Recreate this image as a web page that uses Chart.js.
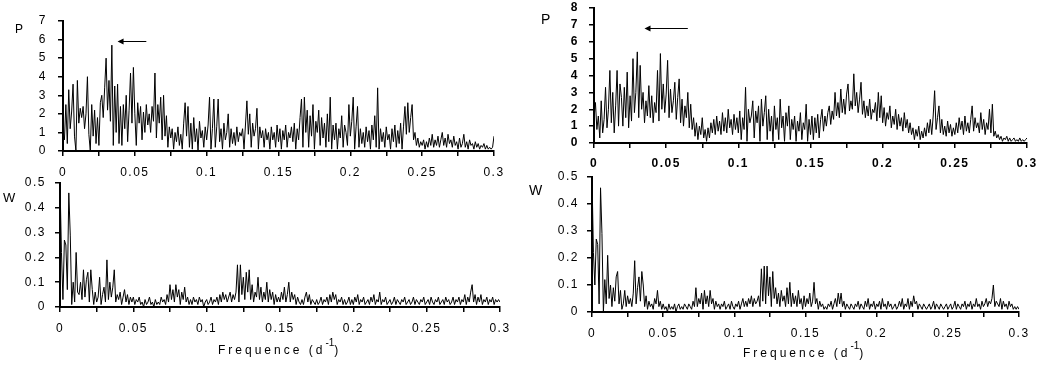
<!DOCTYPE html>
<html>
<head>
<meta charset="utf-8">
<script src="https://cdn.jsdelivr.net/npm/chart.js@4"></script>
<style>
  body { margin: 0; background: #fff; width: 1042px; height: 366px; position: relative; overflow: hidden; font-family: 'Liberation Sans', Arial, sans-serif; }
  canvas { position: absolute; }
  .lbl { position: absolute; color: #000; line-height: 1; }
  .freq { position: absolute; font-size: 12px; letter-spacing: 3px; color: #000; line-height: 12px; white-space: nowrap; }
  .freq sup { font-size: 10px; letter-spacing: 0; vertical-align: 0; position: relative; top: -8px; }
</style>
</head>
<body>
<canvas id="pLeftChart" width="495" height="168" style="left:13px;top:13px"></canvas>
<canvas id="pRightChart" width="497" height="173" style="left:544px;top:0px"></canvas>
<canvas id="wLeftChart" width="504" height="162" style="left:10px;top:175px"></canvas>
<canvas id="wRightChart" width="491" height="173" style="left:542px;top:169px"></canvas>

<div class="lbl" style="left:15px;top:23px;font-size:12px">P</div>
<div class="lbl" style="left:541px;top:12px;font-size:14px">P</div>
<div class="lbl" style="left:3px;top:191px;font-size:13px">W</div>
<div class="lbl" style="left:529px;top:183px;font-size:14px">W</div>
<div class="freq" style="left:218px;top:344px">Frequence (d<sup>-1</sup>)</div>
<div class="freq" style="left:743px;top:347px">Frequence (d<sup>-1</sup>)</div>

<script>
// frequency grid (d^-1), same for all panels
const fStep = 0.001;

// periodogram, first data set (one row = 0.01 d^-1)
const pLeft = [
    1.0, 0.6, 2.5, 0.4, 3.3, 1.2, 2.1, 3.6, 0.8, 0.0,
    3.8, 1.5, 2.3, 1.8, 2.4, 1.2, 2.0, 4.0, 0.9, 0.0,
    2.5, 0.8, 2.2, 0.4, 1.8, 0.3, 2.6, 3.0, 1.8, 3.4,
    5.0, 2.2, 3.8, 1.6, 5.7, 0.3, 3.5, 1.0, 3.6, 0.4,
    2.4, 0.3, 2.5, 1.2, 3.0, 0.5, 2.2, 4.2, 1.5, 4.5,
    2.0, 0.3, 2.6, 1.5, 2.4, 0.6, 2.1, 1.0, 2.5, 1.4,
    2.0, 1.0, 2.4, 1.6, 4.2, 0.7, 2.5, 1.5, 2.9, 0.6,
    3.0, 0.8, 1.9, 0.2, 1.3, 0.7, 1.2, 0.1, 1.0, 0.5,
    1.3, 0.3, 0.9, 0.1, 1.5, 2.6, 0.8, 2.4, 0.2, 1.5,
    0.1, 1.8, 0.5, 1.2, 0.0, 1.6, 0.7, 1.1, 0.2, 1.3,
    0.6, 1.4, 2.9, 0.1, 1.2, 2.8, 0.2, 1.3, 2.8, 0.5,
    1.2, 0.1, 1.5, 0.6, 1.0, 2.0, 0.2, 1.2, 0.4, 1.0,
    0.3, 1.3, 0.5, 1.0, 0.8, 1.2, 0.1, 1.4, 2.7, 0.9,
    2.0, 0.2, 1.5, 0.8, 1.2, 2.3, 0.1, 1.3, 0.7, 1.1,
    0.2, 1.2, 0.6, 1.0, 0.1, 1.3, 0.6, 1.0, 0.2, 1.4,
    0.5, 1.2, 0.1, 1.1, 0.6, 1.4, 0.2, 1.0, 0.7, 1.3,
    0.5, 1.5, 0.1, 1.2, 0.6, 1.8, 2.8, 0.2, 2.9, 1.0,
    2.2, 0.2, 1.9, 0.8, 2.5, 0.1, 1.6, 1.0, 2.2, 0.3,
    1.8, 0.7, 1.5, 0.2, 2.0, 0.5, 2.9, 0.1, 1.4, 0.6,
    1.5, 0.1, 1.2, 0.7, 1.9, 0.2, 1.4, 1.0, 0.3, 2.5,
    0.8, 1.6, 2.9, 0.1, 1.3, 2.4, 0.2, 1.2, 0.4, 1.0,
    0.2, 1.3, 0.5, 1.1, 0.1, 1.4, 0.6, 1.9, 0.2, 3.4,
    0.1, 1.2, 0.5, 1.0, 0.2, 1.3, 0.6, 0.9, 0.1, 1.2,
    0.5, 1.4, 0.2, 1.1, 0.4, 1.5, 0.1, 1.3, 2.4, 0.9,
    2.6, 1.0, 1.8, 2.5, 0.6, 1.0, 0.3, 0.7, 0.2, 0.5,
    0.3, 0.6, 0.1, 0.5, 0.2, 0.7, 0.3, 0.9, 0.2, 0.6,
    0.3, 0.8, 0.2, 0.6, 1.0, 0.3, 0.7, 0.2, 0.9, 0.4,
    0.6, 0.2, 0.8, 0.3, 0.5, 0.1, 0.7, 0.2, 0.4, 0.9,
    0.2, 0.5, 0.1, 0.6, 0.3, 0.4, 0.1, 0.5, 0.2, 0.4,
    0.1, 0.3, 0.2, 0.4, 0.1, 0.3, 0.1, 0.2, 0.1, 0.2,
    0.8
];

// periodogram, second data set
const pRight = [
    1.5, 2.4, 0.8, 1.6, 0.3, 2.5, 0.6, 1.4, 3.3, 0.9,
    2.0, 4.3, 1.2, 3.0, 0.6, 2.2, 4.3, 1.0, 3.5, 2.7,
    1.0, 3.3, 1.5, 4.2, 0.9, 2.8, 1.3, 5.0, 1.8, 3.0,
    5.4, 1.5, 4.6, 2.0, 3.0, 1.2, 2.5, 1.6, 3.4, 1.5,
    2.8, 1.2, 2.4, 1.8, 4.3, 1.3, 5.3, 2.0, 3.5, 1.8,
    2.9, 4.9, 1.5, 3.2, 1.8, 2.5, 3.6, 1.4, 2.7, 3.8,
    1.2, 2.6, 1.0, 2.2, 1.5, 3.0, 0.9, 2.3, 0.8, 1.5,
    0.4, 1.2, 0.2, 1.0, 0.5, 1.5, 0.3, 0.8, 0.1, 0.9,
    0.3, 1.2, 0.6, 1.4, 0.5, 1.6, 0.7, 1.3, 0.5, 1.8,
    0.7, 1.5, 0.6, 2.0, 0.9, 1.4, 0.5, 1.7, 0.8, 1.5,
    0.6, 1.9, 0.2, 1.5, 0.8, 3.3, 0.1, 2.0, 1.2, 1.6,
    2.5, 0.3, 1.9, 1.2, 2.2, 0.1, 2.6, 1.0, 1.8, 2.8,
    0.2, 2.0, 0.7, 1.6, 0.1, 2.2, 0.8, 1.5, 0.2, 2.6,
    0.9, 1.6, 0.1, 1.8, 1.0, 2.2, 0.2, 1.4, 0.8, 1.6,
    0.1, 1.3, 0.7, 1.8, 0.2, 1.2, 0.8, 2.3, 0.1, 1.4,
    0.5, 1.6, 0.2, 1.5, 0.6, 1.7, 0.3, 1.4, 2.0, 0.7,
    1.6, 1.0, 1.8, 2.2, 1.1, 1.9, 1.4, 3.0, 1.6, 2.4,
    1.5, 3.2, 1.8, 2.6, 1.7, 2.9, 3.5, 1.9, 2.5, 2.0,
    4.1, 2.2, 3.0, 1.8, 2.6, 3.6, 1.7, 2.5, 1.5, 2.2,
    1.6, 2.6, 1.4, 2.0, 1.8, 2.4, 1.3, 3.0, 1.5, 2.8,
    1.2, 2.1, 1.0, 1.8, 1.4, 2.2, 0.9, 1.6, 1.1, 2.0,
    0.8, 1.7, 1.0, 1.5, 0.7, 1.8, 0.9, 1.4, 0.6, 1.2,
    0.5, 0.9, 0.2, 0.8, 0.4, 1.0, 0.2, 0.7, 0.3, 0.9,
    0.4, 1.2, 0.6, 1.4, 0.5, 1.6, 3.1, 0.8, 1.5, 2.2,
    0.6, 1.4, 0.5, 1.0, 0.4, 1.3, 0.6, 1.1, 0.4, 0.9,
    0.5, 1.2, 0.6, 1.5, 0.8, 1.3, 0.5, 1.6, 0.7, 1.2,
    0.6, 1.4, 2.2, 0.7, 1.5, 0.9, 1.2, 0.6, 1.8, 0.8,
    1.4, 0.5, 1.2, 0.8, 2.0, 0.6, 2.3, 0.4, 0.7, 0.3,
    0.5, 0.2, 0.4, 0.1, 0.3, 0.2, 0.4, 0.1, 0.3, 0.1,
    0.2, 0.3, 0.1, 0.2, 0.1, 0.3, 0.1, 0.2, 0.1, 0.2,
    0.3
];

// spectral window, first data set
const wLeft = [
    0.50, 0.22, 0.03, 0.27, 0.25, 0.07, 0.46, 0.29, 0.01, 0.10,
    0.02, 0.22, 0.06, 0.05, 0.10, 0.03, 0.15, 0.04, 0.11, 0.14,
    0.02, 0.15, 0.07, 0.01, 0.06, 0.02, 0.04, 0.12, 0.01, 0.05,
    0.08, 0.02, 0.19, 0.03, 0.10, 0.04, 0.08, 0.15, 0.02, 0.05,
    0.03, 0.06, 0.01, 0.04, 0.07, 0.02, 0.05, 0.01, 0.04, 0.02,
    0.04, 0.01, 0.03, 0.02, 0.04, 0.01, 0.02, 0.00, 0.03, 0.01,
    0.02, 0.04, 0.01, 0.02, 0.00, 0.03, 0.01, 0.02, 0.01, 0.04,
    0.02, 0.03, 0.01, 0.05, 0.02, 0.09, 0.03, 0.07, 0.02, 0.09,
    0.04, 0.07, 0.01, 0.06, 0.03, 0.08, 0.02, 0.04, 0.01, 0.03,
    0.01, 0.04, 0.02, 0.03, 0.01, 0.04, 0.02, 0.03, 0.00, 0.02,
    0.03, 0.01, 0.02, 0.04, 0.01, 0.03, 0.02, 0.04, 0.01, 0.05,
    0.02, 0.06, 0.03, 0.05, 0.02, 0.04, 0.06, 0.02, 0.05, 0.03,
    0.06, 0.17, 0.02, 0.17, 0.05, 0.12, 0.03, 0.14, 0.06, 0.15,
    0.03, 0.09, 0.02, 0.06, 0.04, 0.12, 0.03, 0.08, 0.02, 0.06,
    0.03, 0.10, 0.02, 0.07, 0.03, 0.06, 0.01, 0.05, 0.02, 0.04,
    0.02, 0.06, 0.03, 0.08, 0.02, 0.05, 0.10, 0.02, 0.06, 0.03,
    0.05, 0.01, 0.04, 0.02, 0.01, 0.03, 0.01, 0.04, 0.06, 0.02,
    0.05, 0.01, 0.03, 0.02, 0.01, 0.03, 0.01, 0.02, 0.04, 0.01,
    0.03, 0.02, 0.04, 0.01, 0.05, 0.02, 0.06, 0.03, 0.05, 0.01,
    0.03, 0.02, 0.04, 0.01, 0.03, 0.01, 0.02, 0.04, 0.01, 0.03,
    0.01, 0.04, 0.02, 0.05, 0.01, 0.03, 0.02, 0.04, 0.01, 0.02,
    0.03, 0.01, 0.04, 0.02, 0.05, 0.01, 0.03, 0.02, 0.06, 0.01,
    0.03, 0.02, 0.04, 0.01, 0.02, 0.03, 0.01, 0.02, 0.04, 0.01,
    0.03, 0.02, 0.01, 0.03, 0.02, 0.04, 0.01, 0.02, 0.03, 0.01,
    0.02, 0.04, 0.01, 0.03, 0.02, 0.01, 0.03, 0.02, 0.04, 0.01,
    0.02, 0.03, 0.01, 0.04, 0.02, 0.01, 0.03, 0.02, 0.04, 0.01,
    0.02, 0.03, 0.01, 0.04, 0.02, 0.03, 0.01, 0.02, 0.04, 0.01,
    0.03, 0.02, 0.04, 0.01, 0.03, 0.02, 0.05, 0.01, 0.04, 0.02,
    0.06, 0.09, 0.02, 0.05, 0.01, 0.04, 0.02, 0.05, 0.01, 0.03,
    0.02, 0.04, 0.01, 0.03, 0.02, 0.04, 0.01, 0.03, 0.02, 0.03,
    0.02
];

// spectral window, second data set
const wRight = [
    0.50, 0.22, 0.10, 0.27, 0.25, 0.03, 0.46, 0.29, 0.00, 0.12,
    0.03, 0.21, 0.05, 0.10, 0.02, 0.09, 0.04, 0.13, 0.15, 0.03,
    0.08, 0.01, 0.03, 0.08, 0.02, 0.06, 0.03, 0.05, 0.02, 0.07,
    0.19, 0.03, 0.09, 0.13, 0.04, 0.15, 0.10, 0.02, 0.06, 0.01,
    0.04, 0.02, 0.03, 0.01, 0.05, 0.03, 0.08, 0.02, 0.04, 0.01,
    0.03, 0.01, 0.02, 0.00, 0.03, 0.01, 0.02, 0.01, 0.03, 0.00,
    0.02, 0.03, 0.01, 0.02, 0.01, 0.03, 0.02, 0.01, 0.03, 0.02,
    0.01, 0.04, 0.02, 0.09, 0.02, 0.05, 0.03, 0.07, 0.01, 0.08,
    0.03, 0.06, 0.02, 0.08, 0.03, 0.05, 0.01, 0.04, 0.02, 0.03,
    0.01, 0.03, 0.02, 0.04, 0.01, 0.02, 0.03, 0.01, 0.04, 0.02,
    0.01, 0.03, 0.02, 0.04, 0.01, 0.03, 0.05, 0.02, 0.04, 0.02,
    0.05, 0.03, 0.06, 0.02, 0.05, 0.03, 0.04, 0.06, 0.02, 0.16,
    0.04, 0.17, 0.03, 0.17, 0.06, 0.13, 0.02, 0.15, 0.05, 0.09,
    0.03, 0.07, 0.02, 0.08, 0.04, 0.06, 0.02, 0.09, 0.03, 0.11,
    0.02, 0.07, 0.03, 0.06, 0.02, 0.08, 0.03, 0.05, 0.01, 0.06,
    0.02, 0.05, 0.03, 0.07, 0.02, 0.04, 0.11, 0.03, 0.05, 0.01,
    0.04, 0.02, 0.03, 0.01, 0.02, 0.01, 0.03, 0.02, 0.04, 0.01,
    0.03, 0.05, 0.02, 0.07, 0.03, 0.07, 0.02, 0.04, 0.01, 0.03,
    0.02, 0.01, 0.03, 0.02, 0.01, 0.03, 0.02, 0.04, 0.01, 0.03,
    0.02, 0.01, 0.04, 0.02, 0.05, 0.01, 0.03, 0.02, 0.04, 0.01,
    0.03, 0.02, 0.04, 0.01, 0.05, 0.02, 0.03, 0.01, 0.04, 0.02,
    0.03, 0.01, 0.02, 0.03, 0.01, 0.02, 0.04, 0.02, 0.05, 0.01,
    0.03, 0.02, 0.05, 0.01, 0.04, 0.02, 0.06, 0.03, 0.04, 0.01,
    0.03, 0.02, 0.01, 0.03, 0.02, 0.01, 0.02, 0.03, 0.01, 0.02,
    0.04, 0.01, 0.03, 0.02, 0.01, 0.03, 0.02, 0.01, 0.02, 0.03,
    0.01, 0.02, 0.03, 0.01, 0.02, 0.04, 0.01, 0.03, 0.02, 0.01,
    0.03, 0.02, 0.04, 0.01, 0.03, 0.02, 0.04, 0.01, 0.03, 0.02,
    0.05, 0.02, 0.03, 0.01, 0.04, 0.02, 0.03, 0.05, 0.02, 0.04,
    0.03, 0.05, 0.10, 0.02, 0.04, 0.03, 0.02, 0.05, 0.01, 0.04,
    0.02, 0.03, 0.01, 0.04, 0.02, 0.03, 0.01, 0.02, 0.01, 0.02,
    0.01
];

// arrows: [from freq, to freq, height]
const arrowLeft = [0.058, 0.038, 5.9];
const arrowRight = [0.065, 0.035, 6.8];

const spacing = {
    id: 'spacing',
    beforeDraw(chart) { chart.ctx.letterSpacing = '1.5px'; }
};

function arrowPlugin(arrow) {
    return {
        id: 'arrow',
        afterDatasetsDraw(chart) {
            if (!arrow) return;
            const ctx = chart.ctx, x = chart.scales.x, y = chart.scales.y;
            const x1 = x.getPixelForValue(arrow[0]);
            const x2 = x.getPixelForValue(arrow[1]);
            const yy = Math.round(y.getPixelForValue(arrow[2])) + 0.5;
            ctx.save();
            ctx.strokeStyle = '#000';
            ctx.fillStyle = '#000';
            ctx.lineWidth = 1;
            ctx.beginPath();
            ctx.moveTo(x1, yy);
            ctx.lineTo(x2 + 4, yy);
            ctx.stroke();
            ctx.beginPath();
            ctx.moveTo(x2, yy);
            ctx.lineTo(x2 + 6, yy - 3);
            ctx.lineTo(x2 + 6, yy + 3);
            ctx.closePath();
            ctx.fill();
            ctx.restore();
        }
    };
}

function makePanel(id, values, opts) {
    const points = values.map((v, i) => ({ x: +(i * fStep).toFixed(4), y: v }));
    const font = { family: "'Liberation Sans', Arial, sans-serif", size: 12, weight: opts.bold ? 'bold' : 'normal' };
    return new Chart(document.getElementById(id), {
        type: 'line',
        data: {
            datasets: [{
                data: points,
                borderColor: '#000',
                borderWidth: 1,
                pointRadius: 0,
                tension: 0,
                fill: false
            }]
        },
        options: {
            responsive: false,
            animation: false,
            events: [],
            layout: { padding: { top: 8, right: 14, left: 0, bottom: 0 } },
            plugins: { legend: { display: false }, tooltip: { enabled: false } },
            scales: {
                x: {
                    type: 'linear',
                    min: 0,
                    max: 0.3,
                    afterFit: s => { s.height = 30; s.paddingLeft = 0; s.paddingRight = 0; },
                    border: { color: '#000', width: 2 },
                    grid: { drawOnChartArea: false, color: '#000', lineWidth: 1.5, tickLength: 5 },
                    ticks: {
                        stepSize: 0.025,
                        autoSkip: false,
                        maxRotation: 0,
                        padding: opts.xPad,
                        color: '#000',
                        font: font,
                        callback: v => (Math.round(v * 1000) % 50 === 0 ? String(Math.round(v * 100) / 100) : '')
                    }
                },
                y: {
                    min: 0,
                    max: opts.yMax,
                    afterFit: s => { s.width = 50; s.paddingTop = 0; s.paddingBottom = 0; },
                    border: { color: '#000', width: 2 },
                    grid: { drawOnChartArea: false, color: '#000', lineWidth: 1.5, tickLength: 5 },
                    ticks: { stepSize: opts.yStep, autoSkip: false, padding: opts.yPad, color: '#000', font: font }
                }
            }
        },
        plugins: [spacing, arrowPlugin(opts.arrow)]
    });
}

makePanel('pLeftChart', pLeft, { yMax: 7, yStep: 1, yPad: 11, xPad: 9, arrow: arrowLeft });
makePanel('pRightChart', pRight, { yMax: 8, yStep: 1, yPad: 10, xPad: 8, arrow: arrowRight, bold: true });
makePanel('wLeftChart', wLeft, { yMax: 0.5, yStep: 0.1, yPad: 9, xPad: 9 });
makePanel('wRightChart', wRight, { yMax: 0.5, yStep: 0.1, yPad: 8, xPad: 9 });
</script>
</body>
</html>
